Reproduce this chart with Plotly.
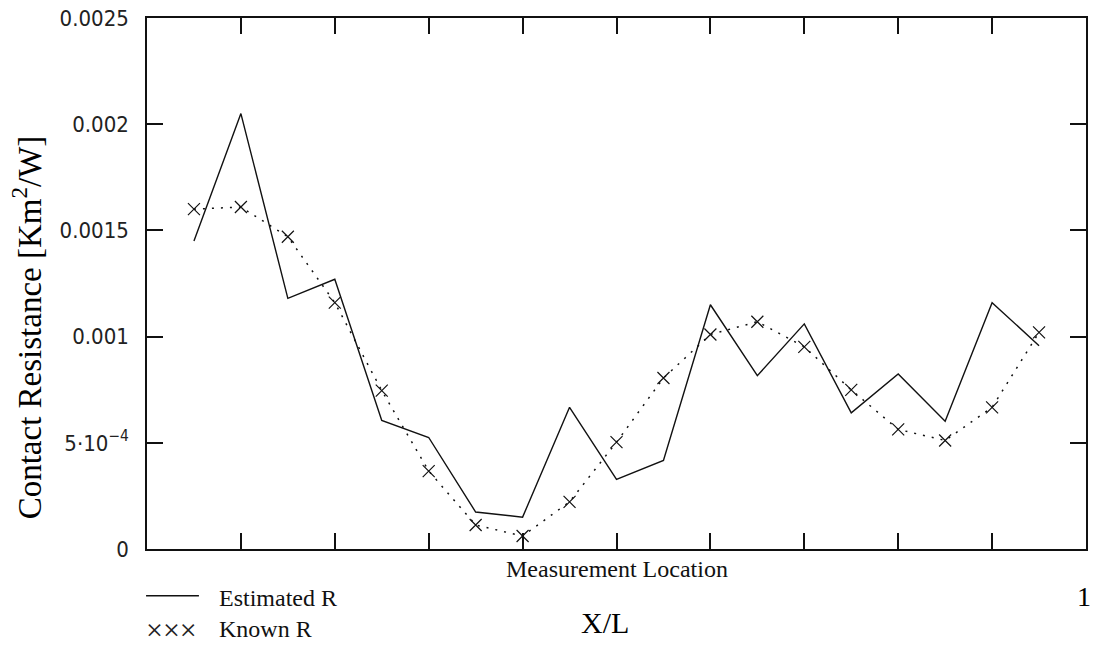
import plotly.graph_objects as go

# X/L measurement locations
x_loc = [0.05, 0.10, 0.15, 0.20, 0.25, 0.30, 0.35, 0.40, 0.45, 0.50,
         0.55, 0.60, 0.65, 0.70, 0.75, 0.80, 0.85, 0.90, 0.95]

# Estimated contact resistance [Km^2/W]
estimated_r = [0.00145, 0.00205, 0.00118, 0.00127, 0.000605, 0.000525, 0.000174,
               0.000150, 0.000667, 0.000328, 0.000417, 0.00115, 0.000816, 0.00106,
               0.000641, 0.000824, 0.000602, 0.00116, 0.000957]

# Known contact resistance [Km^2/W]
known_r = [0.00160, 0.00161, 0.00147, 0.00116, 0.000746, 0.000367, 0.000113,
           0.000061, 0.000222, 0.000503, 0.000805, 0.00101, 0.00107, 0.000952,
           0.000749, 0.000563, 0.000511, 0.000667, 0.00102]

y_tickvals = [0, 0.0005, 0.001, 0.0015, 0.002, 0.0025]
y_ticktext = ["0", "5·10<sup>−4</sup>", "0.001", "0.0015", "0.002", "0.0025"]
x_tickvals = [0.1, 0.2, 0.3, 0.4, 0.5, 0.6, 0.7, 0.8, 0.9]

SERIF = "Liberation Serif, Times New Roman, serif"
NARROW = "Liberation Sans Narrow, DejaVu Sans Condensed, Arial Narrow, sans-serif"

fig = go.Figure()
fig.add_trace(go.Scatter(
    x=x_loc, y=estimated_r, mode="lines", name="Estimated R",
    line=dict(color="#111111", width=1.4), showlegend=False))
fig.add_trace(go.Scatter(
    x=x_loc, y=known_r, mode="lines+markers", name="Known R",
    line=dict(color="#111111", width=1.5, dash="2px,7px"),
    marker=dict(symbol="x-thin-open", size=12,
                line=dict(color="#222222", width=1.2)),
    showlegend=False))

fig.update_layout(
    width=1094, height=645,
    margin=dict(l=147, r=6, t=16, b=96),
    paper_bgcolor="white", plot_bgcolor="white",
    xaxis=dict(range=[0, 1], showgrid=False, zeroline=False,
               showline=True, linecolor="#111111", linewidth=1.5, mirror="ticks",
               ticks="inside", ticklen=16, tickwidth=1.5, tickcolor="#111111",
               tickvals=x_tickvals, showticklabels=False),
    yaxis=dict(range=[0, 0.0025], showgrid=False, zeroline=False,
               showline=True, linecolor="#111111", linewidth=1.5, mirror="ticks",
               ticks="inside", ticklen=16, tickwidth=1.5, tickcolor="#111111",
               tickvals=y_tickvals, ticktext=y_ticktext,
               ticklabelstandoff=12,
               tickfont=dict(family=NARROW, size=22, color="#222222")),
)

ann = [
    dict(text="Contact Resistance [Km<sup>2</sup>/W]", textangle=-90,
         x=-0.1275, y=0.418, xref="paper", yref="paper",
         xanchor="center", yanchor="middle", showarrow=False,
         font=dict(family=SERIF, size=33, color="black")),
    dict(text="Measurement Location", x=0.5005, y=-0.0375, xref="paper", yref="paper",
         xanchor="center", yanchor="middle", showarrow=False,
         font=dict(family=SERIF, size=24, color="#111111")),
    dict(text="X/L", x=0.4878, y=-0.1388, xref="paper", yref="paper",
         xanchor="center", yanchor="middle", showarrow=False,
         font=dict(family=SERIF, size=30, color="black")),
    dict(text="1", x=0.998, y=-0.09, xref="paper", yref="paper",
         xanchor="center", yanchor="middle", showarrow=False,
         font=dict(family=SERIF, size=28, color="black")),
    dict(text="Estimated R", x=0.075, y=-0.092, xref="paper", yref="paper",
         xanchor="left", yanchor="middle", showarrow=False,
         font=dict(family=SERIF, size=24, color="#111111")),
    dict(text="Known R", x=0.075, y=-0.150, xref="paper", yref="paper",
         xanchor="left", yanchor="middle", showarrow=False,
         font=dict(family=SERIF, size=24, color="#111111")),
    dict(text="×××", x=0.0265, y=-0.152, xref="paper", yref="paper",
         xanchor="center", yanchor="middle", showarrow=False,
         font=dict(family=SERIF, size=30, color="#222222")),
]
fig.update_layout(annotations=ann)
fig.add_shape(type="line", xref="paper", yref="paper",
              x0=-0.001, x1=0.0553, y0=-0.088, y1=-0.088,
              line=dict(color="#111111", width=1.5))

fig.write_html("out.html",
               config={"displayModeBar": False},
               post_script="document.body.style.margin='0';document.body.style.overflow='hidden';")
